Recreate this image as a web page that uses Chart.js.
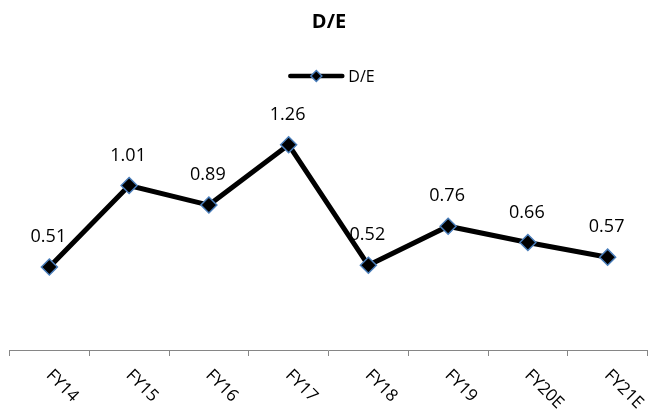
<!DOCTYPE html>
<html>
<head>
<meta charset="utf-8">
<script src="https://cdn.jsdelivr.net/npm/chart.js@4/dist/chart.umd.min.js"></script>
<style>
  html, body { margin: 0; padding: 0; background: #fff; }
  #wrap { width: 657px; height: 410px; }
</style>
</head>
<body>
<div id="wrap"><canvas id="c" width="657" height="410"></canvas></div>
<script>
// Fiscal years and debt-to-equity ratios
const years = ['FY14', 'FY15', 'FY16', 'FY17', 'FY18', 'FY19', 'FY20E', 'FY21E'];
const deRatio = [0.51, 1.01, 0.89, 1.26, 0.52, 0.76, 0.66, 0.57];
const seriesName = 'D/E';
const chartTitle = 'D/E';

const FONT = "'Open Sans', 'Noto Sans', sans-serif";
const MARKER_EDGE = '#4A7EBB';

// Custom legend: thick line with a diamond marker, then the series name
const lineLegend = {
  id: 'lineLegend',
  afterDraw(chart) {
    const ctx = chart.ctx;
    const y = chart.chartArea.top - 46;
    ctx.save();
    ctx.font = '16px ' + FONT;
    const tw = ctx.measureText(seriesName).width;
    const lineLen = 56, gap = 4;
    const x0 = chart.width / 2 + 3 - (lineLen + gap + tw) / 2;
    ctx.strokeStyle = '#000';
    ctx.lineWidth = 4.5;
    ctx.lineCap = 'round';
    ctx.beginPath();
    ctx.moveTo(x0 + 2, y);
    ctx.lineTo(x0 + lineLen - 2, y);
    ctx.stroke();
    const cx = x0 + lineLen / 2, r = 5.5;
    ctx.beginPath();
    ctx.moveTo(cx - r, y);
    ctx.lineTo(cx, y - r);
    ctx.lineTo(cx + r, y);
    ctx.lineTo(cx, y + r);
    ctx.closePath();
    ctx.fillStyle = '#000';
    ctx.fill();
    ctx.lineWidth = 1.5;
    ctx.strokeStyle = MARKER_EDGE;
    ctx.stroke();
    ctx.fillStyle = '#000';
    ctx.textAlign = 'left';
    ctx.textBaseline = 'middle';
    ctx.fillText(seriesName, x0 + lineLen + gap, y + 1);
    ctx.restore();
  }
};

// Slanted category labels under the axis, reading downward to the right
const slantedLabels = {
  id: 'slantedLabels',
  afterDraw(chart) {
    const ctx = chart.ctx;
    const xs = chart.scales.x;
    ctx.save();
    ctx.font = '17px ' + FONT;
    ctx.fillStyle = '#000';
    ctx.textAlign = 'left';
    ctx.textBaseline = 'alphabetic';
    years.forEach((lab, i) => {
      const x = xs.getPixelForValue(i);
      ctx.save();
      ctx.translate(x - 4, xs.top + 26);
      ctx.rotate(Math.PI / 4);
      ctx.fillText(lab, 0, 0);
      ctx.restore();
    });
    ctx.restore();
  }
};

// Value captions above each point
const valueLabels = {
  id: 'valueLabels',
  afterDatasetsDraw(chart) {
    const ctx = chart.ctx;
    const meta = chart.getDatasetMeta(0);
    ctx.save();
    ctx.font = '18px ' + FONT;
    ctx.fillStyle = '#000';
    ctx.textAlign = 'center';
    ctx.textBaseline = 'alphabetic';
    meta.data.forEach((pt, i) => {
      ctx.fillText(deRatio[i].toFixed(2), pt.x - 1, pt.y - 25);
    });
    ctx.restore();
  }
};

Chart.defaults.color = '#000';
Chart.defaults.font.family = FONT;

new Chart(document.getElementById('c'), {
  type: 'line',
  data: {
    labels: years,
    datasets: [{
      label: seriesName,
      data: deRatio,
      borderColor: '#000',
      borderWidth: 5,
      tension: 0,
      fill: false,
      pointStyle: 'rectRot',
      pointRadius: 8,
      pointHoverRadius: 8,
      pointBackgroundColor: '#000',
      pointBorderColor: MARKER_EDGE,
      pointBorderWidth: 1.5
    }]
  },
  options: {
    responsive: false,
    animation: false,
    events: [],
    layout: { padding: { top: 0, left: 7, right: 6, bottom: 54 } },
    plugins: {
      legend: { display: false },
      tooltip: { enabled: false },
      title: {
        display: true,
        text: chartTitle,
        color: '#000',
        font: { size: 20, weight: 'bold', family: FONT, lineHeight: 1.2 },
        padding: { top: 10, bottom: 88 }
      }
    },
    scales: {
      x: {
        offset: true,
        ticks: { display: false },
        grid: {
          display: true,
          offset: true,
          drawOnChartArea: false,
          drawTicks: true,
          tickLength: 6,
          color: '#868686'
        },
        border: { display: true, color: '#868686', width: 1 }
      },
      y: {
        display: false,
        min: 0,
        max: 1.4
      }
    }
  },
  plugins: [lineLegend, slantedLabels, valueLabels]
});
</script>
</body>
</html>
